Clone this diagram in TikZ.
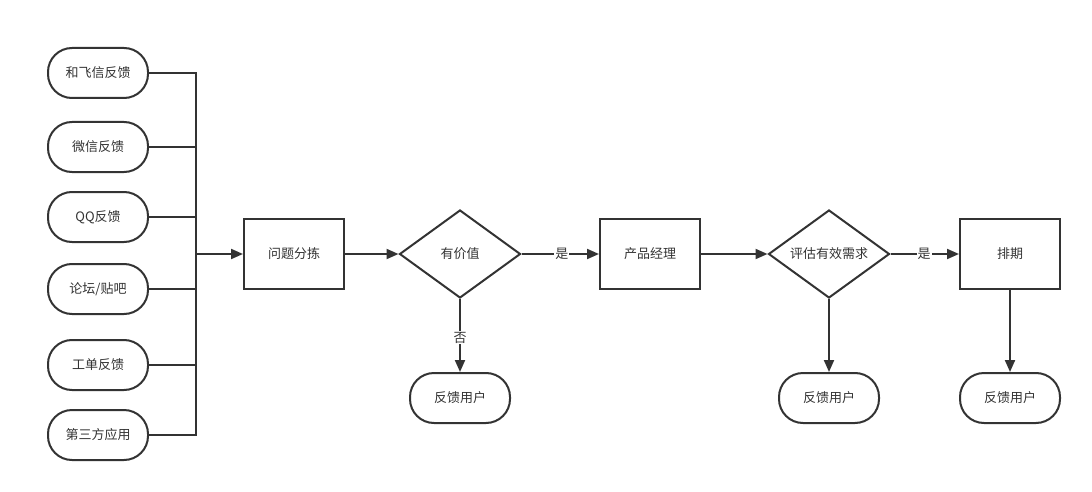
\documentclass[tikz,border=0pt]{standalone}
\usepackage{fontspec}
\setmainfont{Noto Sans CJK SC}
\usetikzlibrary{shapes.geometric,arrows.meta}
\definecolor{ink}{HTML}{333333}
\tikzset{
  every node/.style={font=\fontsize{13pt}{15pt}\selectfont, text=ink},
  term/.style={draw=ink, line width=2pt, rectangle, rounded corners=24pt, minimum width=100pt, minimum height=50pt, inner sep=0pt},
  proc/.style={draw=ink, line width=2pt, rectangle, minimum width=100pt, minimum height=70pt, inner sep=0pt},
  deci/.style={draw=ink, line width=2pt, diamond, minimum width=121pt, minimum height=88pt, inner sep=0pt, aspect=1.375},
  conn/.style={draw=ink, line width=2pt},
  arr/.style={conn, -{Triangle[length=12pt,width=10pt]}},
  lbl/.style={fill=white, inner sep=1pt}
}
\begin{document}
\begin{tikzpicture}[x=1pt,y=-1pt]
\useasboundingbox (0,0) rectangle (1092,492);
\node[term] (s1) at (98,73) {和飞信反馈};
\node[term] (s2) at (98,147) {微信反馈};
\node[term] (s3) at (98,217) {QQ反馈};
\node[term] (s4) at (98,289) {论坛/贴吧};
\node[term] (s5) at (98,365) {工单反馈};
\node[term] (s6) at (98,435) {第三方应用};
\coordinate (b1) at (196,73);
\coordinate (b6) at (196,435);
\coordinate (bm) at (196,254);
\node[proc] (p1) at (294,254) {问题分拣};
\node[deci] (d1) at (460,254) {有价值};
\node[proc] (p2) at (650,254) {产品经理};
\node[deci] (d2) at (829,254) {评估有效需求};
\node[proc] (p3) at (1010,254) {排期};
\node[term] (e1) at (460,398) {反馈用户};
\node[term] (e2) at (829,398) {反馈用户};
\node[term] (e3) at (1010,398) {反馈用户};
\draw[conn] (s1.east) -- (b1) -- (b6) -- (s6.east);
\foreach \s in {s2,s3,s4,s5} \draw[conn] (\s.east) -- (\s.east -| bm);
\draw[arr] (bm) -- (p1.west);
\draw[arr] (p1.east) -- (d1.west);
\draw[arr] (d1.east) -- node[lbl, pos=0.52] {是} (p2.west);
\draw[arr] (p2.east) -- (d2.west);
\draw[arr] (d2.east) -- node[lbl, pos=0.49] {是} (p3.west);
\draw[arr] (d1.south) -- node[lbl, pos=0.53] {否} (e1.north);
\draw[arr] (d2.south) -- (e2.north);
\draw[arr] (p3.south) -- (e3.north);
\end{tikzpicture}
\end{document}
